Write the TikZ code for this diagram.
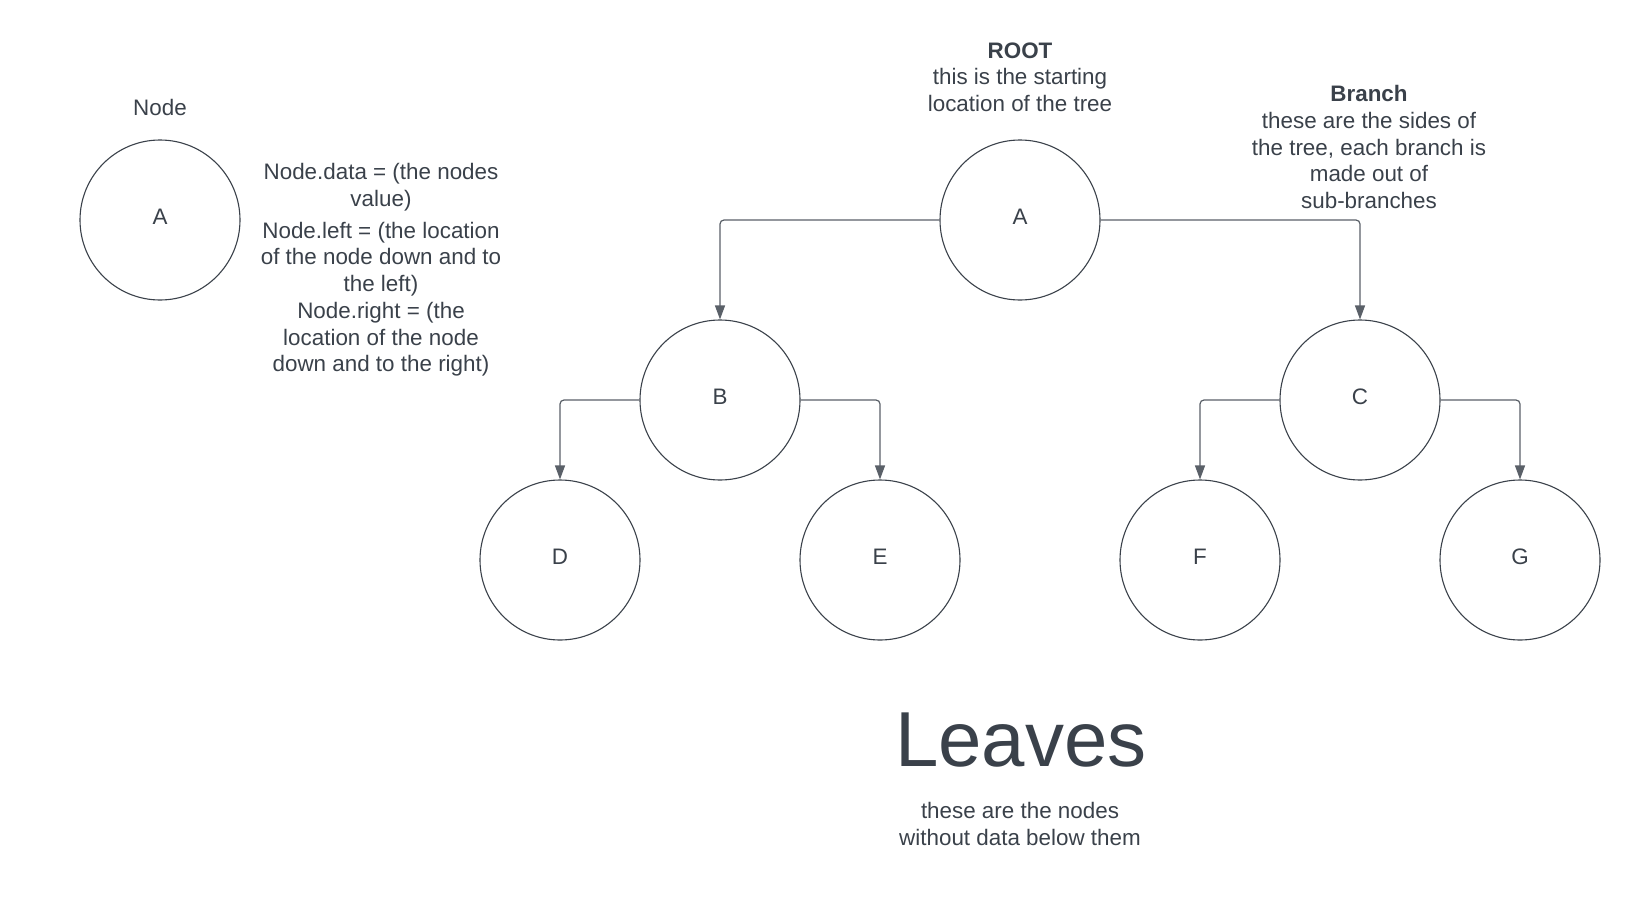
\documentclass[tikz,border=0pt]{standalone}
\usepackage{fontspec}
\setmainfont{Liberation Sans}
\usepackage{xcolor}
\usepackage{tikz}
\usetikzlibrary{arrows.meta}
\definecolor{ink}{HTML}{3A414A}
\definecolor{wire}{HTML}{5A6068}
\tikzset{
  lab/.style={text=ink, font=\fontsize{11.2}{13.35}\selectfont, align=center},
  head/.style={text=ink, font=\fontsize{39}{47}\selectfont},
  treeNode/.style={circle, draw=ink, line width=0.55pt, minimum size=80pt, inner sep=0pt,
    text depth=0.3em, text=ink, font=\fontsize{11.2}{13.35}\selectfont},
  link/.style={->, draw=wire, line width=0.6pt, rounded corners=2pt},
  >={Triangle[length=7pt, width=5pt]}
}
\begin{document}
\begin{tikzpicture}[x=0.5pt, y=-0.5pt]
\useasboundingbox (0,0) rectangle (1640,900);
% legend
\node[lab] (nodeTitle) at (160,107) {Node};
\node[treeNode] (legend) at (160,220) {A};
\node[lab] (fields) at (381,270) {Node.data = (the nodes\\value)\\[2.5pt]Node.left = (the location\\of the node down and to\\the left)\\Node.right = (the\\location of the node\\down and to the right)};

% tree
\node[treeNode] (A) at (1020,220) {A};
\node[treeNode] (B) at (720,400) {B};
\node[treeNode] (C) at (1360,400) {C};
\node[treeNode] (D) at (560,560) {D};
\node[treeNode] (E) at (880,560) {E};
\node[treeNode] (F) at (1200,560) {F};
\node[treeNode] (G) at (1520,560) {G};
\draw[link] (A.west) -| (B.north);
\draw[link] (A.east) -| (C.north);
\draw[link] (B.west) -| (D.north);
\draw[link] (B.east) -| (E.north);
\draw[link] (C.west) -| (F.north);
\draw[link] (C.east) -| (G.north);

% labels
\node[lab] (root) at (1020,77) {\textbf{ROOT}\\this is the starting\\location of the tree};
\node[lab] (branch) at (1369,147) {\textbf{Branch}\\these are the sides of\\the tree, each branch is\\made out of\\sub-branches};
\node[head] (leaves) at (1021,740) {Leaves};
\node[lab] (leavesNote) at (1020,824) {these are the nodes\\without data below them};
\end{tikzpicture}
\end{document}
